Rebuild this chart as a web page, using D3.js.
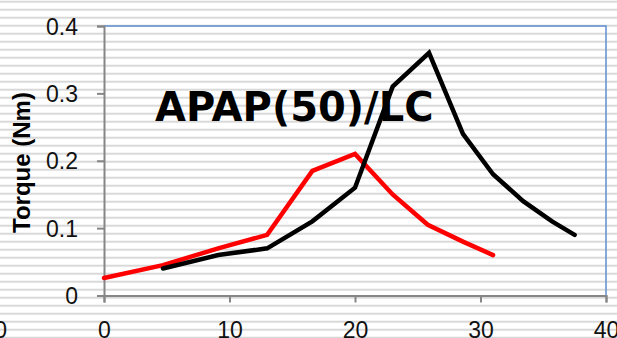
<!DOCTYPE html>
<html>
<head>
<meta charset="utf-8">
<script src="https://cdn.jsdelivr.net/npm/d3@7"></script>
<style>
  body { margin: 0; background: #fff; }
  svg { display: block; }
</style>
</head>
<body>
<div id="chart"></div>
<script>
// values
var speedLC    = [4.7, 9.1, 13, 16.6, 20, 23, 25.9, 28.6, 31, 33.4, 35.7, 37.5]
var torqueLC   = [0.04, 0.06, 0.07, 0.11, 0.16, 0.31, 0.36, 0.24, 0.18, 0.14, 0.11, 0.09]
var speedAPAP  = [0, 4.7, 9.1, 13, 16.6, 20, 23, 25.8, 28.6, 31]
var torqueAPAP = [0.026, 0.045, 0.07, 0.09, 0.185, 0.21, 0.15, 0.105, 0.08, 0.06]
var xTicks = [0, 10, 20, 30, 40]
var yTicks = [0, 0.1, 0.2, 0.3, 0.4]
var title = "APAP(50)/LC"
var yTitle = "Torque (Nm)"

var W = 617, H = 338
var svg = d3.select("#chart").append("svg")
  .attr("width", W)
  .attr("height", H)

// ruled background
svg.append("g").selectAll("rect")
  .data(d3.range(0.7, H, 8)).enter()
  .append("rect")
  .attr("x", 0).attr("y", function(d){ return d })
  .attr("width", W).attr("height", 2)
  .style("fill", "#d9d9d9")

var x = d3.scaleLinear().domain([0, 40]).range([104, 606])
var y = d3.scaleLinear().domain([0, 0.4]).range([295.5, 26])

var font = "'Liberation Sans', Arial, sans-serif"

// top + right border (blue)
svg.append("path")
  .attr("d", "M" + x(0) + "," + y(0.4) + "H" + x(40) + "V" + y(0))
  .style("fill", "none")
  .style("stroke", "#5e8fcf")
  .style("stroke-width", 1.5)

var yAxis = svg.append("g")
  .attr("transform", "translate(" + x(0) + ",0)")
  .call(d3.axisLeft(y).tickValues(yTicks).tickSize(7).tickPadding(19)
    .tickFormat(function(d){ return d === 0 ? "0" : d3.format(".1f")(d) }))
var xAxis = svg.append("g")
  .attr("transform", "translate(0," + y(0) + ")")
  .call(d3.axisBottom(x).tickValues(xTicks).tickSize(7)
    .tickFormat(d3.format("d")))

;[xAxis, yAxis].forEach(function(a){
  a.select(".domain").style("stroke", "#868686").style("stroke-width", 2)
  a.selectAll(".tick line").style("stroke", "#868686").style("stroke-width", 2)
  a.selectAll(".tick text")
    .style("font-family", font).style("font-size", "23px").style("fill", "#111")
})
xAxis.selectAll(".tick text").attr("y", 42).attr("dy", 0)
yAxis.selectAll(".tick text").attr("dy", "0.35em")

// leftover label of the neighbouring chart
svg.append("text")
  .attr("x", 7).attr("y", y(0) + 42)
  .attr("text-anchor", "end")
  .style("font-family", font).style("font-size", "23px").style("fill", "#111")
  .text("40")

svg.append("text")
  .attr("transform", "translate(30,162.5) rotate(-90)")
  .attr("text-anchor", "middle")
  .style("font-family", font).style("font-size", "24px").style("font-weight", "bold")
  .text(yTitle)

svg.append("text")
  .attr("x", 155).attr("y", 121)
  .style("font-family", "'DejaVu Sans', sans-serif")
  .style("font-size", "40px").style("font-weight", "bold")
  .text(title)

var line = d3.line()
  .x(function(d){ return x(d[0]) })
  .y(function(d){ return y(d[1]) })

var series = [
  {xs: speedAPAP, ys: torqueAPAP, color: "#ff0000"},
  {xs: speedLC, ys: torqueLC, color: "#000000"}
]
series.forEach(function(s){
  svg.append("path")
    .datum(d3.zip(s.xs, s.ys))
    .attr("d", line)
    .style("fill", "none")
    .style("stroke", s.color)
    .style("stroke-width", 4.5)
    .style("stroke-linecap", "round")
    .style("stroke-linejoin", "miter")
})
</script>
</body>
</html>
